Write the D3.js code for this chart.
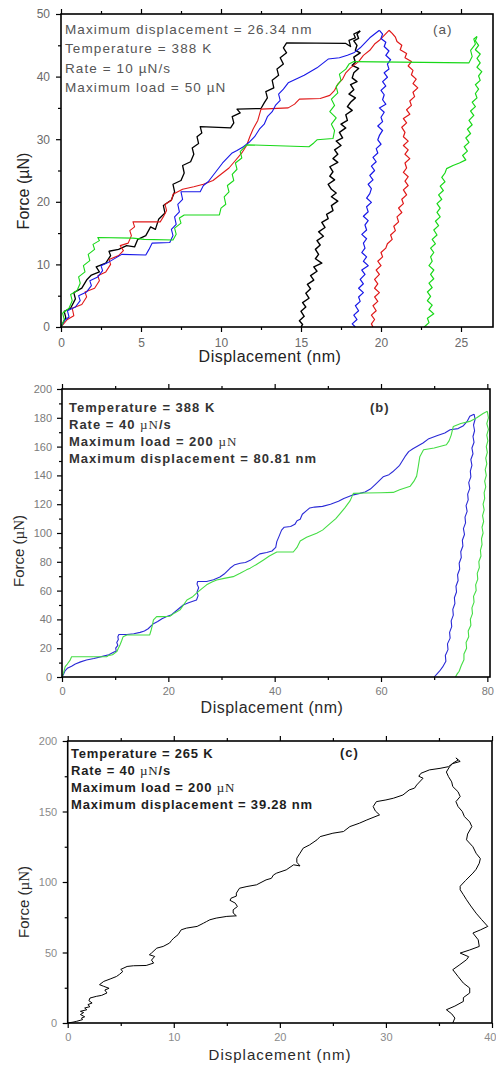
<!DOCTYPE html>
<html><head><meta charset="utf-8">
<script src="https://cdn.jsdelivr.net/npm/d3@7"></script>
<style>body{margin:0;background:#fff}svg{display:block}</style>
</head><body>
<svg id="chart" width="496" height="1068"></svg>
<script>
// ---------- Panel (a) data: [displacement nm, force µN] ----------
const aBlackLoad = [[0,0],[0.3,1.5],[0.2,2.5],[0.6,3],[0.9,4.5],[0.8,5.5],[1.3,6.2],[1.6,7.5],[1.9,8.3],[2.4,8.8],[2.2,9.6],[2.8,10.2],[3.1,11.4],[3.0,12.1],[3.6,12.4],[4.1,13.0],[4.6,12.8],[4.8,14.0],[5.3,14.6],[5.6,16.0],[5.9,15.6],[6.1,17.2],[6.5,18.2],[6.4,19.4],[6.9,20.3],[7.1,21.6],[7.0,22.8],[7.5,23.4],[7.7,24.6],[7.6,25.8],[8.1,26.4],[8.3,27.6],[8.2,28.6],[8.6,29.3],[8.5,30.4],[8.8,31.0],[8.7,32.0],[10.6,31.8],[10.8,32.6],[10.7,33.6],[11.2,34.2],[11.0,34.8],[12.5,34.9],[12.7,35.8],[12.9,36.6],[12.8,37.6],[13.3,38.2],[13.2,39.4],[13.6,40.2],[13.5,41.2],[13.9,42.0],[13.7,43.0],[14.1,43.8],[13.9,44.6],[14.1,45.4],[17.8,45.3],[18.1,44.8],[18.0,45.8],[18.4,46.2],[18.3,46.8],[18.7,47.3]];
const aBlackUnload = [[18.7,47.3],[18.5,46.8],[18.6,46.1],[18.3,45.7],[18.5,45.0],[18.4,44.2],[18.7,43.8],[18.3,43.1],[18.4,42.3],[18.2,41.8],[18.6,41.3],[18.3,40.6],[18.2,39.8],[18.5,39.2],[18.1,38.7],[18.3,37.9],[18.0,37.2],[18.4,36.6],[18.1,35.9],[17.9,35.2],[18.2,34.6],[17.8,33.9],[17.9,33.0],[17.5,32.4],[17.8,31.8],[17.4,31.1],[17.6,30.2],[17.2,29.7],[17.5,29.0],[17.1,28.3],[17.3,27.6],[17.0,26.9],[17.3,26.3],[16.8,25.6],[17.0,24.8],[16.8,24.1],[17.1,23.5],[16.7,22.8],[16.9,22.0],[17.2,21.4],[16.9,20.8],[17.3,20.1],[16.9,19.4],[17.0,18.6],[16.6,18.0],[16.7,17.3],[16.3,16.7],[16.5,15.9],[16.1,15.2],[16.4,14.5],[16.0,13.8],[16.2,13.1],[15.9,12.4],[16.1,11.6],[15.9,10.9],[16.3,10.2],[15.8,9.6],[16.0,8.9],[15.6,8.2],[15.8,7.5],[15.4,6.8],[15.6,6.1],[15.3,5.4],[15.5,4.6],[15.1,3.9],[15.3,3.2],[15.0,2.5],[15.2,1.7],[14.9,1.0],[15.1,0.4],[15.0,0]];
const aRedLoad = [[0,0],[0.4,1.2],[0.8,1.8],[0.7,3.0],[1.3,3.6],[1.6,4.8],[1.5,5.6],[2.1,6.2],[2.4,7.4],[2.3,8.2],[2.8,8.8],[3.1,10.0],[3.0,10.8],[3.6,11.4],[3.9,12.2],[3.7,13.0],[4.2,13.4],[4.4,14.6],[4.3,15.4],[4.6,16.0],[4.5,16.8],[6.2,16.8],[6.4,17.6],[6.6,18.6],[6.5,19.6],[6.9,20.2],[7.0,21.2],[7.6,22.0],[8.3,22.4],[8.9,22.8],[9.5,23.4],[10.0,24.4],[10.5,25.4],[10.9,26.6],[11.3,27.8],[11.6,29.0],[11.8,30.4],[12.0,31.6],[12.3,33.0],[12.5,34.8],[14.2,35.0],[14.6,35.6],[14.9,36.4],[16.2,36.5],[16.8,37.0],[17.1,37.8],[17.3,38.8],[17.6,39.6],[17.8,40.6],[18.1,41.4],[18.6,42.4],[18.9,43.4],[19.3,44.2],[19.6,45.2],[19.9,45.8],[20.2,46.6],[20.5,47.4]];
const aRedUnload = [[20.5,47.4],[20.7,46.9],[20.9,46.3],[21.0,45.6],[21.3,45.0],[21.2,44.3],[21.6,43.7],[21.5,43.0],[21.9,42.4],[21.7,41.7],[22.0,41.0],[21.9,40.3],[22.2,39.6],[22.0,38.9],[22.3,38.2],[22.0,37.5],[22.1,36.8],[21.8,36.1],[21.9,35.4],[21.6,34.7],[21.8,34.0],[21.4,33.3],[21.6,32.6],[21.3,31.9],[21.5,31.1],[21.4,30.4],[21.7,29.7],[21.4,29.0],[21.7,28.3],[21.5,27.6],[21.8,26.9],[21.5,26.2],[21.6,25.4],[21.4,24.7],[21.7,24.0],[21.5,23.3],[21.7,22.6],[21.4,21.9],[21.6,21.1],[21.3,20.4],[21.4,19.7],[21.1,19.0],[21.3,18.3],[21.0,17.6],[21.1,16.8],[20.8,16.1],[20.9,15.4],[20.6,14.7],[20.7,14.0],[20.4,13.3],[20.3,12.6],[20.0,11.9],[20.1,11.2],[19.8,10.5],[20.0,9.8],[19.7,9.1],[19.9,8.4],[19.6,7.6],[19.8,6.9],[19.6,6.2],[19.9,5.5],[19.6,4.8],[19.8,4.1],[19.5,3.4],[19.7,2.6],[19.4,1.9],[19.6,1.2],[19.4,0.5],[19.5,0]];
const aBlueLoad = [[0,0],[0.2,1.0],[0.5,1.6],[0.4,2.6],[0.9,3.2],[1.2,4.2],[1.1,5.0],[1.6,5.6],[1.9,6.6],[1.8,7.4],[2.3,8.0],[2.6,9.0],[2.5,9.8],[3.0,10.4],[3.4,11.0],[3.8,11.6],[5.3,11.5],[5.5,12.4],[5.7,13.4],[6.8,13.5],[7.0,14.6],[6.9,15.6],[7.2,16.4],[7.1,17.6],[7.4,18.4],[7.3,19.6],[7.6,20.4],[7.5,21.6],[8.7,21.6],[8.9,22.6],[9.2,23.2],[9.5,24.2],[9.8,25.2],[10.1,26.2],[10.4,27.0],[10.7,27.8],[11.0,28.2],[11.4,28.8],[11.8,29.6],[12.1,30.4],[12.4,31.6],[12.7,32.4],[12.9,33.6],[13.2,34.4],[13.4,35.4],[13.7,36.2],[13.6,37.2],[13.9,38.0],[14.2,39.0],[14.7,39.6],[15.2,40.2],[15.6,40.8],[16.0,41.4],[16.4,42.2],[16.7,42.8],[17.4,43.0],[17.9,43.4],[18.3,43.8],[18.7,44.6],[19.0,45.4],[19.3,46.2],[19.6,46.8],[19.9,47.4]];
const aBlueUnload = [[19.9,47.4],[20.1,46.8],[20.0,46.1],[20.3,45.5],[20.2,44.8],[20.5,44.1],[20.3,43.4],[20.6,42.7],[20.4,42.0],[20.5,41.2],[20.2,40.6],[20.4,39.9],[20.1,39.2],[20.3,38.5],[20.0,37.8],[20.2,37.1],[20.1,36.3],[20.3,35.6],[19.9,35.0],[20.2,34.3],[20.0,33.5],[20.1,32.8],[19.8,32.1],[20.1,31.4],[19.9,30.6],[19.8,29.9],[20.0,29.2],[19.7,28.5],[19.8,27.8],[19.5,27.1],[19.7,26.4],[19.4,25.7],[19.6,25.0],[19.3,24.2],[19.5,23.5],[19.2,22.8],[19.4,22.1],[19.3,21.3],[19.1,20.6],[19.4,19.9],[19.1,19.2],[19.2,18.4],[18.9,17.7],[19.2,17.0],[19.0,16.3],[19.1,15.5],[18.8,14.8],[19.1,14.1],[18.9,13.4],[19.0,12.6],[18.8,11.9],[19.1,11.2],[18.9,10.5],[19.2,9.8],[18.8,9.1],[19.0,8.4],[18.7,7.6],[18.9,6.9],[18.6,6.2],[18.9,5.5],[18.6,4.8],[18.7,4.1],[18.4,3.4],[18.6,2.6],[18.3,1.9],[18.5,1.2],[18.2,0.5],[18.4,0]];
const aGreenLoad = [[0,0],[0.2,1.2],[0.1,2.2],[0.5,3.0],[0.7,4.2],[0.6,5.2],[1.0,5.8],[1.2,7.0],[1.1,8.0],[1.5,8.8],[1.4,9.8],[1.8,10.6],[1.7,11.6],[2.1,12.4],[2.0,13.2],[2.4,13.8],[2.3,14.3],[4.5,14.2],[5.2,14.0],[7.0,13.9],[7.2,14.8],[7.1,15.8],[7.5,16.6],[7.4,17.4],[7.7,17.9],[9.9,17.9],[10.0,19.0],[10.3,19.6],[10.2,20.8],[10.5,21.6],[10.4,22.6],[10.8,23.4],[10.7,24.4],[11.0,25.2],[10.9,26.2],[11.3,27.0],[11.2,28.0],[11.5,28.8],[11.6,29.1],[15.5,28.8],[15.8,29.4],[16.0,29.9],[17.0,30.1],[17.1,31.4],[16.9,32.4],[17.2,33.4],[16.8,34.4],[17.1,35.4],[16.9,36.4],[17.3,37.4],[17.2,38.4],[17.5,39.4],[17.4,40.4],[17.8,41.2],[18.0,42.0],[18.3,42.4],[25.5,42.2],[25.7,43.2],[25.6,44.2],[25.9,45.2],[25.8,46.0],[26.0,46.4]];
const aGreenUnload = [[26.0,46.4],[25.9,45.7],[26.1,45.0],[25.9,44.3],[26.2,43.6],[26.0,42.9],[26.2,42.2],[26.0,41.5],[26.3,40.8],[26.1,40.1],[26.2,39.4],[25.9,38.7],[26.1,38.0],[25.9,37.3],[26.0,36.6],[25.7,35.9],[25.9,35.2],[25.6,34.5],[25.8,33.8],[25.5,33.0],[25.7,32.3],[25.4,31.6],[25.6,30.9],[25.3,30.2],[25.5,29.5],[25.2,28.8],[25.4,28.1],[25.1,27.4],[25.3,26.7],[24.9,26.2],[24.5,25.8],[24.1,25.3],[24.0,24.6],[23.8,23.9],[24.0,23.2],[23.7,22.5],[23.9,21.8],[23.6,21.1],[23.8,20.4],[23.5,19.7],[23.7,19.0],[23.5,18.3],[23.7,17.6],[23.4,16.9],[23.6,16.2],[23.3,15.5],[23.5,14.7],[23.2,14.0],[23.4,13.3],[23.1,12.6],[23.3,11.9],[23.1,11.2],[23.2,10.5],[23.0,9.8],[23.3,9.1],[23.1,8.4],[23.3,7.7],[23.0,7.0],[23.2,6.3],[22.9,5.6],[23.1,4.9],[22.9,4.2],[23.2,3.5],[23.0,2.8],[23.3,2.1],[22.9,1.4],[23.0,0.7],[22.7,0]];

// ---------- Panel (b) data ----------
const bBlueLoad = [[0,0],[0.3,2],[0.6,4.5],[1,6],[1.8,7.5],[2.5,9],[3.5,10.5],[4.6,11.8],[6,12.8],[7.8,14.5],[8.8,15.5],[9.6,17],[10.2,18],[10.1,20],[10.5,22],[10.3,24],[10.6,26],[10.5,28],[10.7,29.5],[12.2,29.5],[13.5,30],[14.7,31],[15.5,32],[16.2,33.5],[17.2,37],[18,38.5],[18.8,40.5],[19.7,42],[20.5,43],[21.5,46],[22.8,50],[23.8,51.5],[25.3,53.5],[25.6,56.5],[25.4,59],[25.7,62],[25.4,64.5],[25.5,66.3],[27.2,66.3],[28.5,67.5],[29.7,69.5],[30.5,71.5],[31.6,75.5],[32.5,78],[33.5,79],[34.5,79.5],[35.4,81],[36.2,83],[37.2,85.5],[38.5,86.5],[39.5,87.5],[40.2,90],[40.4,94],[40.8,97.5],[41.3,102],[41.8,104],[43,104.5],[43.8,106],[44.2,108.5],[44.8,109.5],[45.2,113],[46,115.5],[46.6,117.4],[47.5,118],[49,118.5],[50.5,120],[52,122],[53,124],[54.8,126.5],[56,127.5],[57,128.5],[58,130.5],[59,134],[60.4,139],[61.5,140.5],[62.2,142.5],[62.8,144.5],[63.5,147],[64,150],[64.5,153],[65.2,156.5],[66,158.5],[67.9,162.5],[69,165.5],[70.5,167.5],[72,169.5],[73,171.7],[74.5,172.5],[75.5,174.5],[76.2,177.5],[76.7,181],[77.5,182.5]];
const bBlueUnload = [[77.5,182.5],[77.7,179],[77.4,175],[77.6,171],[77.3,167],[77.5,163],[77.1,159],[77.3,155],[76.9,151],[77.1,147],[76.8,143],[76.9,139],[76.5,135],[76.7,131],[76.3,127],[76.4,123],[76.0,119],[76.2,115],[75.8,111],[75.9,107],[75.5,103],[75.7,99],[75.3,95],[75.4,91],[75.0,87],[75.1,83],[74.7,79],[74.8,75],[74.4,71],[74.5,67],[74.1,63],[74.2,59],[73.8,55],[73.9,51],[73.5,47],[73.6,43],[73.2,39],[73.3,35],[72.9,31],[73.0,27],[72.5,23],[72.6,19],[72.1,15],[72.2,11],[71.6,7],[71.0,4],[70.5,2],[70.0,0]];
const bGreenLoad = [[0,0],[0.3,3],[0.6,7.2],[1,9],[1.5,11.5],[1.8,14.1],[5,14.1],[8.4,14.1],[8.8,15],[9.5,15.5],[10.3,17.6],[10.6,20],[10.9,22.2],[11.2,25],[11.5,28],[12.2,29.2],[14,29.2],[16.5,29.2],[16.8,33],[17.0,36],[17.2,39.6],[17.8,41.9],[19,41.9],[20.3,42.2],[21.2,44.5],[22.2,46.6],[23.5,53.5],[24.5,55.5],[25.3,58.2],[26.2,61],[27.2,64],[28.2,66],[29.1,67.4],[30.5,68.5],[32.2,69.7],[33.5,72],[34.7,74.4],[35.4,75.6],[36.5,78],[37.9,81.3],[39,84],[40.4,86.8],[42,86.8],[43.5,86.8],[44.2,90],[44.8,94.5],[46,97],[47.9,99.9],[49,102],[50.4,106.5],[51.5,110],[52.3,113.5],[53.2,117.5],[54.2,122.5],[54.8,127.5],[57,127.8],[60,128],[62.3,128.2],[63.5,130],[65.5,132.5],[66.2,136],[66.7,139.5],[67,146],[67.3,153],[68,157.8],[70,159],[72.3,161.3],[72.8,164],[73.2,168],[73.6,174],[75,176],[76.7,177.5],[78,180],[79.2,183],[80,184.5]];
const bGreenUnload = [[80,184.5],[80.2,180],[79.9,176],[80.2,172],[79.9,168],[80.1,164],[79.8,160],[80.0,156],[79.7,152],[79.9,148],[79.6,144],[79.8,140],[79.5,136],[79.7,132],[79.4,128],[79.5,124],[79.2,120],[79.4,116],[79.1,112],[79.3,108],[79.0,104],[79.2,100],[78.9,96],[79.0,92],[78.7,88],[78.8,84],[78.4,80],[78.5,76],[78.1,72],[78.2,68],[77.8,64],[77.9,60],[77.4,56],[77.5,52],[77.1,48],[77.2,44],[76.8,40],[76.9,36],[76.4,32],[76.5,28],[76.0,24],[76.1,20],[75.6,16],[75.6,12],[75.1,8],[74.7,4],[74.3,2],[74.0,0]];

// ---------- Panel (c) data ----------
const cLoad = [[0,0],[0.5,0.6],[0.85,1.2],[1.4,2.4],[1.3,3.5],[1.6,4.4],[1.2,6.0],[1.5,7.4],[1.2,8.3],[1.8,9.4],[1.6,10.6],[2.1,11.6],[1.9,13.0],[2.3,14.2],[2.0,15.8],[2.1,17.7],[2.7,18.9],[3.2,19.6],[3.7,21.3],[3.5,23.4],[3.9,24.6],[3.4,26.0],[3.0,27.2],[3.4,29.5],[4.0,31.2],[4.6,33.0],[4.9,34.6],[5.2,36.6],[5.0,38.0],[5.6,40.1],[6.2,40.6],[7.4,40.8],[8.1,42.5],[7.9,44.6],[8.2,47.2],[7.7,48.4],[7.9,49.6],[8.4,53.1],[9.0,54.3],[9.6,56.7],[9.8,58.6],[10.0,60.2],[10.4,62.6],[10.7,66.1],[11.2,67.3],[12.2,68.5],[12.8,70.8],[13.1,72.0],[13.4,73.2],[14.0,74.4],[15.0,75.6],[15.9,76.0],[15.6,78.0],[15.6,80.3],[16.0,82.6],[15.8,85.0],[15.3,87.0],[15.4,88.5],[15.9,90.0],[15.9,92.1],[16.2,95.6],[16.9,96.8],[17.8,98.0],[18.7,101.5],[19.2,102.6],[19.4,105.0],[19.7,106.3],[20.6,108.6],[21.3,112.2],[21.9,111.4],[21.6,114.0],[21.6,116.9],[21.9,120.4],[22.2,124.0],[22.8,126.3],[23.5,129.9],[23.8,132.2],[25.0,134.6],[26.0,135.8],[26.6,139.3],[27.5,141.7],[28.2,144.0],[29.4,147.6],[29.0,150.4],[28.8,153.5],[29.1,157.0],[30.0,158.2],[30.7,159.4],[31.6,161.7],[32.2,165.3],[32.7,166.6],[32.9,168.8],[33.5,173.6],[33.1,175.0],[33.3,177.1],[34.1,179.5],[35.1,180.6],[35.9,181.8],[36.3,184.2],[36.8,186.5],[36.6,188.0]];
const cUnload = [[36.6,188.0],[37.0,185.5],[36.3,184.0],[36.0,181.8],[35.7,178.0],[35.9,174.7],[36.2,171.0],[36.3,167.7],[36.8,164.0],[37.0,160.6],[36.6,157.0],[36.8,153.5],[37.2,150.0],[37.4,146.4],[37.9,142.6],[38.1,139.3],[37.7,134.0],[37.6,129.9],[38.2,125.0],[38.5,120.4],[38.9,116.6],[38.8,113.3],[38.5,109.0],[38.2,106.3],[37.5,101.0],[37.0,97.0],[37.0,94.5],[37.3,91.0],[37.6,87.4],[38.0,83.0],[38.5,77.9],[39.0,73.5],[39.6,68.5],[38.9,66.0],[38.2,63.8],[38.7,59.0],[38.8,54.3],[37.9,51.8],[37.0,49.6],[37.8,47.0],[37.6,44.9],[36.9,41.0],[36.3,37.8],[36.8,33.0],[37.3,28.3],[37.9,24.8],[37.9,21.3],[37.3,18.0],[37.3,15.3],[36.5,12.0],[35.7,9.4],[36.2,6.5],[36.5,3.5],[36.3,0]];

// ---------- tick values & labels ----------
const aXTicks = [0,5,10,15,20,25], aXMinor = [2.5,7.5,12.5,17.5,22.5];
const aYTicks = [0,10,20,30,40,50], aYMinor = [5,15,25,35,45];
const bXTicks = [0,20,40,60,80], bXMinor = [10,30,50,70];
const bYTicks = [0,20,40,60,80,100,120,140,160,180,200], bYMinor = [10,30,50,70,90,110,130,150,170,190];
const cXTicks = [0,10,20,30,40], cXMinor = [5,15,25,35];
const cYTicks = [0,50,100,150,200], cYMinor = [25,75,125,175];

const aNotes = ["Maximum displacement = 26.34 nm","Temperature = 388 K","Rate = 10 µN/s","Maximum load = 50 µN"];
const bNotes = ["Temperature = 388 K","Rate = 40 |µN|/s","Maximum load = 200 |µN|","Maximum displacement = 80.81 nm"];
const cNotes = ["Temperature = 265 K","Rate = 40 |µN|/s","Maximum load = 200 |µN|","Maximum displacement = 39.28 nm"];

const SANS = "'Liberation Sans', Arial, sans-serif";
const SERIF = "'Liberation Serif', 'Times New Roman', serif";
const svg = d3.select('#chart');

function richText(sel, str){
  // parts between | | are rendered in a serif face
  str.split('|').forEach((part,i)=>{
    const t = sel.append('tspan').text(part);
    if(i%2===1){ t.attr('font-family',SERIF).attr('font-weight','normal'); }
  });
}

function panel(o){
  const x = d3.scaleLinear().domain(o.xd).range([o.l,o.r]);
  const y = d3.scaleLinear().domain(o.yd).range([o.b,o.t]);
  const g = svg.append('g');
  const line = d3.line().x(d=>x(d[0])).y(d=>y(d[1]));
  o.series.forEach(s=>{
    g.append('path').datum(s.data).attr('d',line).attr('fill','none')
      .attr('stroke',s.color).attr('stroke-width',s.w).attr('stroke-linejoin','round');
  });
  const styleAxis = (ax)=>{
    ax.select('.domain').remove();
    ax.selectAll('line').attr('stroke','#000').attr('stroke-width',1.2);
    ax.selectAll('text').attr('font-family',SANS).attr('font-size',o.tickFont).attr('fill',o.tickColor);
  };
  const bx = g.append('g').attr('transform',`translate(0,${o.b})`)
    .call(d3.axisBottom(x).tickValues(o.xt).tickSize(5).tickPadding(o.xpad).tickFormat(d3.format('d'))).call(styleAxis);
  if(o.lastEnd){ bx.selectAll('.tick text').filter(d=>d===o.xt[o.xt.length-1]).attr('text-anchor','end').attr('x',4); }
  g.append('g').attr('transform',`translate(0,${o.b})`)
    .call(d3.axisBottom(x).tickValues(o.xm).tickSize(3).tickFormat('')).call(styleAxis);
  g.append('g').attr('transform',`translate(0,${o.t})`)
    .call(d3.axisTop(x).tickValues(o.xt).tickSize(5).tickFormat('')).call(styleAxis);
  g.append('g').attr('transform',`translate(0,${o.t})`)
    .call(d3.axisTop(x).tickValues(o.xm).tickSize(3).tickFormat('')).call(styleAxis);
  g.append('g').attr('transform',`translate(${o.l},0)`)
    .call(d3.axisLeft(y).tickValues(o.yt).tickSize(5).tickPadding(o.ypad).tickFormat(d3.format('d'))).call(styleAxis);
  g.append('g').attr('transform',`translate(${o.l},0)`)
    .call(d3.axisLeft(y).tickValues(o.ym).tickSize(3).tickFormat('')).call(styleAxis);
  g.append('rect').attr('x',o.l).attr('y',o.t).attr('width',o.r-o.l).attr('height',o.b-o.t)
    .attr('fill','none').attr('stroke','#000').attr('stroke-width',1.6);
  g.append('text').attr('x',o.xtX).attr('y',o.xtY).attr('text-anchor','middle')
    .attr('font-family',SANS).attr('font-size',o.titleFont).attr('fill',o.titleColor)
    .attr('letter-spacing',o.xtLS).text('Displacement (nm)');
  const yt = g.append('text').attr('transform',`translate(${o.ytX},${o.ytY}) rotate(-90)`).attr('text-anchor','middle')
    .attr('font-family',SANS).attr('font-size',o.yTitleFont).attr('fill',o.titleColor);
  richText(yt, o.yTitle);
  o.notes.forEach((n,i)=>{
    const t = g.append('text').attr('x',o.nx).attr('y',o.ny + i*o.nd)
      .attr('font-family',SANS).attr('font-size',o.nFont).attr('font-weight',o.nWeight)
      .attr('fill',o.nColor).attr('letter-spacing',o.nLS);
    richText(t, n);
  });
  g.append('text').attr('x',o.lx).attr('y',o.ly).attr('font-family',SANS).attr('font-size',o.nFont)
    .attr('font-weight',o.nWeight).attr('fill',o.nColor).attr('letter-spacing',1).text(o.label);
}

panel({l:61,r:493,t:14,b:327,xd:[0,27],yd:[0,50],xt:aXTicks,xm:aXMinor,yt:aYTicks,ym:aYMinor,
  xpad:6,ypad:6,tickFont:12,tickColor:'#6a6a6a',
  series:[{data:aBlackLoad,color:'#000',w:1.3},{data:aBlackUnload,color:'#000',w:1.4},
          {data:aRedLoad,color:'#e01818',w:1.1},{data:aRedUnload,color:'#e01818',w:1.2},
          {data:aBlueLoad,color:'#1818e8',w:1.1},{data:aBlueUnload,color:'#1818e8',w:1.2},
          {data:aGreenLoad,color:'#18d818',w:1.1},{data:aGreenUnload,color:'#18d818',w:1.2}],
  xtX:270,xtY:362,titleFont:16,xtLS:0.5,titleColor:'#222',ytX:29,ytY:191,yTitleFont:16,yTitle:'Force (µN)',
  notes:aNotes,nx:65,ny:34,nd:19.3,nFont:13.5,nWeight:'normal',nColor:'#555',nLS:1.1,label:'(a)',lx:433,ly:34});

panel({l:62,r:490,t:389,b:677,xd:[0,80.5],yd:[0,200],xt:bXTicks,xm:bXMinor,yt:bYTicks,ym:bYMinor,
  xpad:5,ypad:5,tickFont:11,tickColor:'#7a7a7a',
  series:[{data:bBlueLoad,color:'#2a2ad6',w:1.1},{data:bBlueUnload,color:'#2a2ad6',w:1.1},
          {data:bGreenLoad,color:'#44dd44',w:1.1},{data:bGreenUnload,color:'#44dd44',w:1.1}],
  xtX:272,xtY:713,titleFont:16,xtLS:0.5,titleColor:'#2a2a2a',ytX:24,ytY:551,yTitleFont:15,yTitle:'Force (|µN|)',
  notes:bNotes,nx:69,ny:411.7,nd:17.2,nFont:13,nWeight:'bold',nColor:'#333',nLS:1.0,label:'(b)',lx:370,ly:411.7});

panel({l:67.7,r:492,t:741,b:1023,xd:[0,40],yd:[0,200],xt:cXTicks,xm:cXMinor,yt:cYTicks,ym:cYMinor,
  xpad:5,ypad:5.5,tickFont:11,tickColor:'#8a8a8a',lastEnd:true,
  series:[{data:cLoad,color:'#000',w:1},{data:cUnload,color:'#000',w:1}],
  xtX:280,xtY:1060,titleFont:15,xtLS:1,titleColor:'#2a2a2a',ytX:29,ytY:902,yTitleFont:15,yTitle:'Force (|µN|)',
  notes:cNotes,nx:71,ny:757.7,nd:17.1,nFont:13,nWeight:'bold',nColor:'#1e1e1e',nLS:0.8,label:'(c)',lx:340,ly:757});
</script>
</body></html>
